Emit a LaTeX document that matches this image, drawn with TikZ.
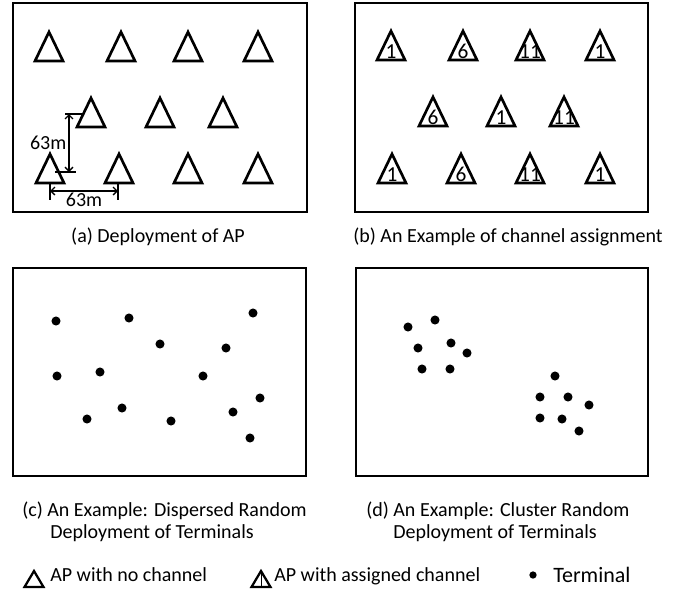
\documentclass[tikz,border=0pt]{standalone}
\usepackage{fontspec}
\setmainfont{Carlito}
\usetikzlibrary{arrows.meta}

\begin{document}
\begin{tikzpicture}[x=0.75pt,y=-0.75pt,
    panel/.style={draw=black,line width=1.9pt},
    ap/.pic={\draw[line width=2pt,line join=miter] (-14,0) -- (0,-29) -- (14,0) -- cycle;},
    apch/.pic={\draw[line width=2pt,line join=miter] (-14,0) -- (0,-29) -- (14,0) -- cycle;
      \node[anchor=base,inner sep=0pt,font=\fontsize{16}{16}\selectfont] at (0,-2) {#1};},
    legap/.pic={\draw[line width=1.7pt,line join=miter] (-9.5,0) -- (0,-16) -- (9.5,0) -- cycle;},
    legapch/.pic={\draw[line width=1.7pt,line join=miter] (-9.5,0) -- (0,-16) -- (9.5,0) -- cycle;
      \draw[line width=0.6pt] (0,0) -- (0,-16);},
    terminal/.style={circle,fill=black,inner sep=0pt,minimum size=6.8pt},
    caption/.style={font=\fontsize{15}{18}\selectfont,inner sep=0pt},
    tick/.style={line width=1pt},
    dim/.style={<->,>={Straight Barb[length=3pt,width=6pt]},line width=1pt}]

\useasboundingbox (0,0) rectangle (685,593);

\draw[panel] (13,3) rectangle (307,212);
\draw[panel] (355,3) rectangle (648,212);
\draw[panel] (13,268) rectangle (306,476);
\draw[panel] (356,268) rectangle (648,476);

\pic (a11) at (49,61) {ap};
\pic (a12) at (121,61) {ap};
\pic (a13) at (188,61) {ap};
\pic (a14) at (258,61) {ap};
\pic (a21) at (91,127) {ap};
\pic (a22) at (160,127) {ap};
\pic (a23) at (223,127) {ap};
\pic (a31) at (50,183) {ap};
\pic (a32) at (119,183) {ap};
\pic (a33) at (188,183) {ap};
\pic (a34) at (258,183) {ap};

\coordinate (vtop) at (69,114);
\coordinate (vbot) at (69,172);
\coordinate (hleft) at (50,191);
\coordinate (hright) at (118,191);
\draw[tick] (65,114) -- (82,114);
\draw[tick] (55,172) -- (76,172);
\draw[tick] (50,183) -- (50,200);
\draw[tick] (118,183) -- (118,200);
\draw[dim] (vtop) -- (vbot) node[midway,left,caption,inner sep=1.5pt] {63m};
\draw[dim] (hleft) -- (hright) node[midway,below,caption,inner sep=1pt] {63m};

\pic (b11) at (391,60) {apch=1};
\pic (b12) at (463,60) {apch=6};
\pic (b13) at (530,60) {apch=11};
\pic (b14) at (600,60) {apch=1};
\pic (b21) at (433,126) {apch=6};
\pic (b22) at (501,126) {apch=1};
\pic (b23) at (564,126) {apch=11};
\pic (b31) at (392,183) {apch=1};
\pic (b32) at (461,183) {apch=6};
\pic (b33) at (530,183) {apch=11};
\pic (b34) at (600,183) {apch=1};

\node[terminal] (c1) at (56,321) {};
\node[terminal] (c2) at (129,318) {};
\node[terminal] (c3) at (253,313) {};
\node[terminal] (c4) at (160,344) {};
\node[terminal] (c5) at (226,348) {};
\node[terminal] (c6) at (57,376) {};
\node[terminal] (c7) at (100,372) {};
\node[terminal] (c8) at (203,376) {};
\node[terminal] (c9) at (260,398) {};
\node[terminal] (c10) at (122,408) {};
\node[terminal] (c11) at (87,419) {};
\node[terminal] (c12) at (171,421) {};
\node[terminal] (c13) at (233,412) {};
\node[terminal] (c14) at (250,438) {};

\node[terminal] (d1) at (408,327) {};
\node[terminal] (d2) at (435,320) {};
\node[terminal] (d3) at (418,348) {};
\node[terminal] (d4) at (451,343) {};
\node[terminal] (d5) at (467,353) {};
\node[terminal] (d6) at (422,369) {};
\node[terminal] (d7) at (450,369) {};
\node[terminal] (d8) at (555,376) {};
\node[terminal] (d9) at (540,397) {};
\node[terminal] (d10) at (568,397) {};
\node[terminal] (d11) at (589,405) {};
\node[terminal] (d12) at (540,418) {};
\node[terminal] (d13) at (562,419) {};
\node[terminal] (d14) at (579,431) {};

\node[caption,anchor=base] (capa) at (158,242) {(a) Deployment of AP};
\node[caption,anchor=base] (capb) at (508,242) {(b) An Example of channel assignment};
\node[caption,anchor=base west] (capc) at (22,516) {(c) An Example: Dispersed Random};
\node[caption,anchor=base west] (capcc) at (50,538) {Deployment of Terminals};
\node[caption,anchor=base west] (capd) at (366,516) {(d) An Example: Cluster Random};
\node[caption,anchor=base west] (capdd) at (393,538) {Deployment of Terminals};

\pic (lap) at (34,587) {legap};
\node[caption,anchor=base west] (lapt) at (50,581) {AP with no channel};
\pic (lapch) at (261,587) {legapch};
\node[caption,anchor=base west] (lapcht) at (274,581) {AP with assigned channel};
\node[terminal,minimum size=5.5pt] (lterm) at (533,575) {};
\node[caption,anchor=base west,font=\fontsize{16.5}{18}\selectfont] (ltermt) at (553,582) {Terminal};

\end{tikzpicture}
\end{document}
